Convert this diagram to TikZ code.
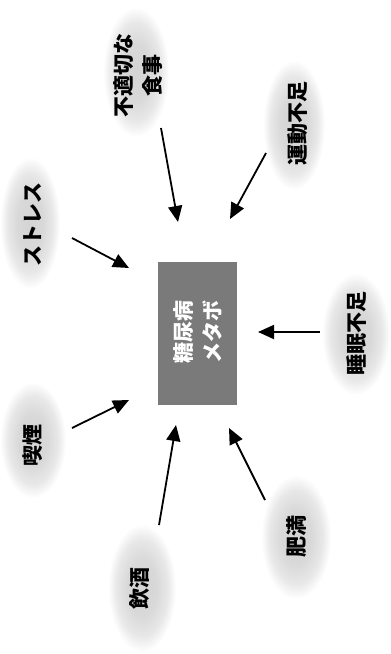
\documentclass[tikz,border=0pt]{standalone}
\usepackage{fontspec}
\setmainfont{Noto Sans CJK JP}
\usetikzlibrary{arrows.meta,shapes.geometric}
\pgfdeclareradialshading{spray}{\pgfpoint{0bp}{0bp}}{color(0bp)=(black!17); color(11bp)=(black!15); color(19bp)=(black!9); color(25bp)=(white); color(50bp)=(white)}
\tikzset{
  cloud/.style={ellipse,inner sep=0pt,minimum width=#1,shading=spray,draw=none},
  lbl/.style={rotate=90,align=center,font=\fontsize{21}{29}\selectfont\bfseries,inner sep=0pt,text=black},
  arr/.style={line width=1.8pt,-{Triangle[length=16pt,width=14pt]}},
}
\begin{document}
\begin{tikzpicture}[x=1pt,y=-1pt]
\useasboundingbox (0,0) rectangle (391,654);
% clouds
\node[cloud=130pt,minimum height=66pt,rotate=90] (cA) at (136,72) {};
\node[cloud=130pt,minimum height=62pt,rotate=90] (cB) at (294,125) {};
\node[cloud=132pt,minimum height=60pt,rotate=90] (cC) at (30,223) {};
\node[cloud=116pt,minimum height=66pt,rotate=90] (cD) at (33,440) {};
\node[cloud=128pt,minimum height=68pt,rotate=90] (cE) at (142,588) {};
\node[cloud=124pt,minimum height=70pt,rotate=90] (cF) at (296,537) {};
\node[cloud=122pt,minimum height=68pt,rotate=90] (cG) at (356,334) {};
% labels
\node[lbl] (tA) at (138,75) {不適切な\\食事};
\node[lbl] (tB) at (298,123) {運動不足};
\node[lbl] (tC) at (33,224) {ストレス};
\node[lbl] (tD) at (33,445) {喫煙};
\node[lbl] (tE) at (140,588) {飲酒};
\node[lbl] (tF) at (297,536) {肥満};
\node[lbl] (tG) at (357,333) {睡眠不足};
% center box
\node[fill=black!52,minimum width=79pt,minimum height=143pt,inner sep=0pt] (box) at (197.5,333.5) {};
\node[lbl,text=white] (tbox) at (197.5,332) {糖尿病\\メタボ};
% arrow ends
\coordinate (a1) at (161,128); \coordinate (b1) at (178,222);
\coordinate (a2) at (266,153); \coordinate (b2) at (230,219);
\coordinate (a3) at (72,238);  \coordinate (b3) at (129,268);
\coordinate (a4) at (72,428);  \coordinate (b4) at (129,400);
\coordinate (a5) at (159,525); \coordinate (b5) at (176,425);
\coordinate (a6) at (265,500); \coordinate (b6) at (229,428);
\coordinate (a7) at (320,332); \coordinate (b7) at (258,332);
\foreach \i in {1,...,7} {\draw[arr] (a\i) -- (b\i);}
\end{tikzpicture}
\end{document}
